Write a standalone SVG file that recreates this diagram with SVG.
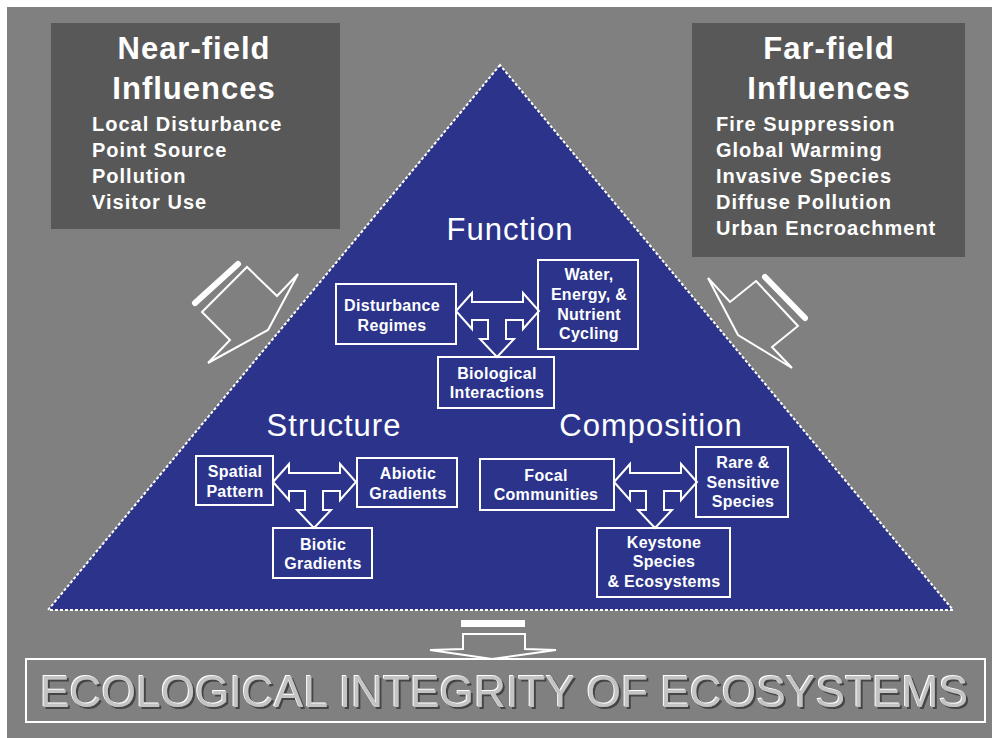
<svg xmlns="http://www.w3.org/2000/svg" xmlns:xlink="http://www.w3.org/1999/xlink" width="992" height="738" viewBox="0 0 992 738">
  <style>
    text { font-family: "Liberation Sans", Arial, sans-serif; fill: #ffffff; }
    .title { font-size: 31px; font-weight: bold; text-anchor: middle; letter-spacing: 1px; }
    .item { font-size: 20px; font-weight: bold; letter-spacing: 1px; }
    .sec { font-size: 31px; text-anchor: middle; letter-spacing: 1px; }
    .bt { font-size: 16px; font-weight: bold; text-anchor: middle; letter-spacing: 0.3px; }
    .box { fill: none; stroke: #ffffff; stroke-width: 2; }
    .panel { fill: #585858; }
    .arr { fill: none; stroke: #ffffff; stroke-width: 2; stroke-linejoin: miter; }
    .bar { stroke: #ffffff; stroke-width: 6; stroke-linecap: round; }
    .big { font-size: 44px; fill: #c4c4c4; }
  </style>
  <defs>
    <path id="tee" d="M273,482 L289,464 L289,473 L340,473 L340,464 L356,482 L340,500 L340,491 L323,491 L323,510 L331,510 L314,528 L297,510 L305,510 L305,491 L289,491 L289,500 Z"/>
    <filter id="emboss" x="-5%" y="-30%" width="110%" height="160%">
      <feOffset in="SourceAlpha" dx="1.5" dy="1.5" result="sh"/>
      <feFlood flood-color="#444444"/>
      <feComposite in2="sh" operator="in" result="shadow"/>
      <feOffset in="SourceAlpha" dx="-1" dy="-1" result="hl"/>
      <feFlood flood-color="#ffffff"/>
      <feComposite in2="hl" operator="in" result="hi"/>
      <feMerge>
        <feMergeNode in="shadow"/>
        <feMergeNode in="hi"/>
        <feMergeNode in="SourceGraphic"/>
      </feMerge>
    </filter>
  </defs>

  <rect x="0" y="0" width="992" height="738" fill="#ffffff"/>
  <rect x="7" y="7" width="985" height="731" fill="#808080"/>

  <g id="triangle">
    <polygon points="500,65 48,610 953,610" fill="#2B348A" stroke="#ffffff" stroke-width="2" stroke-dasharray="3 2"/>
  </g>

  <g id="near-field">
    <rect class="panel" x="51" y="23" width="289" height="206"/>
    <text class="title" x="194" y="59">Near-field</text>
    <text class="title" x="194" y="99">Influences</text>
    <text class="item" x="92" y="131">Local Disturbance</text>
    <text class="item" x="92" y="157">Point Source</text>
    <text class="item" x="92" y="183">Pollution</text>
    <text class="item" x="92" y="209">Visitor Use</text>
  </g>

  <g id="far-field">
    <rect class="panel" x="692" y="23" width="273" height="234"/>
    <text class="title" x="829" y="59">Far-field</text>
    <text class="title" x="829" y="99">Influences</text>
    <text class="item" x="716" y="131">Fire Suppression</text>
    <text class="item" x="716" y="157">Global Warming</text>
    <text class="item" x="716" y="183">Invasive Species</text>
    <text class="item" x="716" y="209">Diffuse Pollution</text>
    <text class="item" x="716" y="235">Urban Encroachment</text>
  </g>

  <g id="labels">
    <text class="sec" x="510" y="240">Function</text>
    <text class="sec" x="334" y="436">Structure</text>
    <text class="sec" x="651" y="436">Composition</text>
  </g>

  <g id="disturbance-regimes">
    <rect class="box" x="336" y="284" width="120" height="60"/>
    <text class="bt" x="392" y="311">Disturbance</text>
    <text class="bt" x="392" y="331">Regimes</text>
  </g>
  <g id="water-energy">
    <rect class="box" x="538" y="260" width="100" height="89"/>
    <text class="bt" x="589" y="280">Water,</text>
    <text class="bt" x="589" y="300">Energy, &amp;</text>
    <text class="bt" x="589" y="320">Nutrient</text>
    <text class="bt" x="589" y="339">Cycling</text>
  </g>
  <g id="biological-interactions">
    <rect class="box" x="438" y="357" width="116" height="51"/>
    <text class="bt" x="497" y="379">Biological</text>
    <text class="bt" x="497" y="398">Interactions</text>
  </g>

  <g id="spatial-pattern">
    <rect class="box" x="196" y="456" width="77" height="49"/>
    <text class="bt" x="235" y="477">Spatial</text>
    <text class="bt" x="235" y="497">Pattern</text>
  </g>
  <g id="abiotic-gradients">
    <rect class="box" x="357" y="458" width="100" height="49"/>
    <text class="bt" x="408" y="479">Abiotic</text>
    <text class="bt" x="408" y="499">Gradients</text>
  </g>
  <g id="biotic-gradients">
    <rect class="box" x="273" y="528" width="99" height="50"/>
    <text class="bt" x="323" y="550">Biotic</text>
    <text class="bt" x="323" y="569">Gradients</text>
  </g>

  <g id="focal-communities">
    <rect class="box" x="480" y="459" width="134" height="51"/>
    <text class="bt" x="546" y="481">Focal</text>
    <text class="bt" x="546" y="500">Communities</text>
  </g>
  <g id="rare-sensitive">
    <rect class="box" x="696" y="447" width="92" height="70"/>
    <text class="bt" x="743" y="468">Rare &amp;</text>
    <text class="bt" x="743" y="488">Sensitive</text>
    <text class="bt" x="743" y="507">Species</text>
  </g>
  <g id="keystone">
    <rect class="box" x="597" y="528" width="133" height="69"/>
    <text class="bt" x="664" y="548">Keystone</text>
    <text class="bt" x="664" y="567">Species</text>
    <text class="bt" x="664" y="587">&amp; Ecosystems</text>
  </g>

  <g id="integrity">
    <rect x="26" y="659" width="959" height="63" fill="none" stroke="#ffffff" stroke-width="2"/>
    <text class="big" x="40" y="707" textLength="928" lengthAdjust="spacingAndGlyphs" filter="url(#emboss)">ECOLOGICAL INTEGRITY OF ECOSYSTEMS</text>
  </g>

  <g id="connectors">
    <use xlink:href="#tee" href="#tee" class="arr" transform="translate(183,-171)"/>
    <use xlink:href="#tee" href="#tee" class="arr"/>
    <use xlink:href="#tee" href="#tee" class="arr" transform="translate(341,0)"/>
    <line class="bar" x1="195" y1="303" x2="238" y2="264"/>
    <polygon class="arr" points="202,312 247,267 277,296 298,274 268,330 208,363 230,340"/>
    <line class="bar" x1="765" y1="277" x2="805" y2="318"/>
    <polygon class="arr" points="756,281 798,326 772,347 792,368 738,335 708,278 730,302"/>
    <rect x="461" y="620" width="64" height="7" fill="#ffffff"/>
    <polygon class="arr" points="463,634 525,634 525,649 556,650 492,659 430,650 463,649"/>
  </g>
</svg>
